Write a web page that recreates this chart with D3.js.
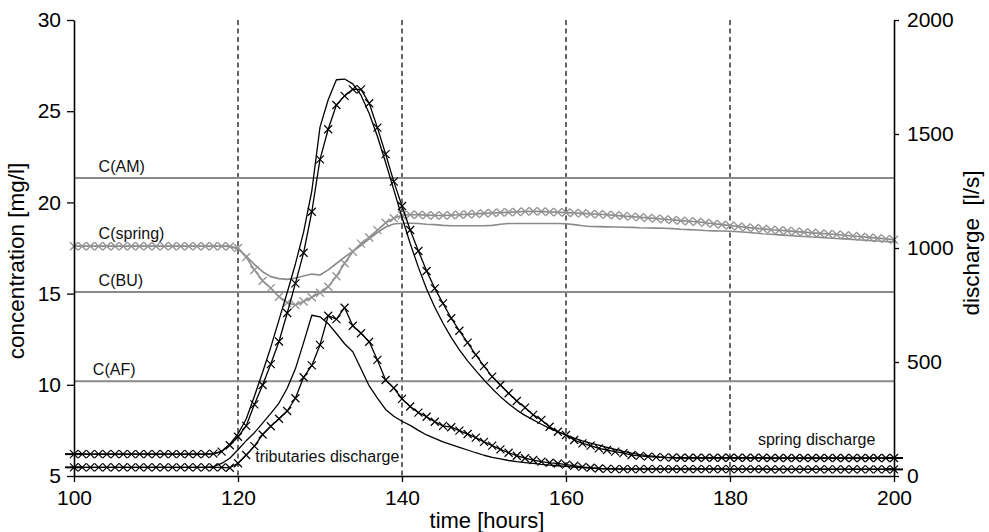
<!DOCTYPE html>
<html lang="en">
<head>
<meta charset="UTF-8">
<title>Spring concentration and discharge</title>
<script src="https://d3js.org/d3.v7.min.js"></script>
<style>
  body { margin: 0; background: #fff; }
  svg { display: block; font-family: "Liberation Sans", Arial, Helvetica, sans-serif; }
</style>
</head>
<body>
<svg width="989" height="532"></svg>
<script>
// hourly samples
const hours = [
  100,101,102,103,104,105,106,107,108,109,
  110,111,112,113,114,115,116,117,118,119,
  120,121,122,123,124,125,126,127,128,129,
  130,131,132,133,134,135,136,137,138,139,
  140,141,142,143,144,145,146,147,148,149,
  150,151,152,153,154,155,156,157,158,159,
  160,161,162,163,164,165,166,167,168,169,
  170,171,172,173,174,175,176,177,178,179,
  180,181,182,183,184,185,186,187,188,189,
  190,191,192,193,194,195,196,197,198,199,
  200
];

// discharge [l/s]
const springQMeas = [
  96,96,96,96,96,96,96,96,96,96,
  96,96,96,96,96,96,96,98,107,135,
  172,220,314,399,491,590,715,845,979,1159,
  1389,1521,1627,1667,1696,1696,1635,1528,1412,1291,
  1184,1079,987,899,823,757,692,637,585,531,
  482,436,399,363,329,300,268,246,216,194,
  180,158,143,133,121,114,107,100,92,88,
  85,83,82,81,80,80,80,80,80,80,
  80,80,80,80,80,79,79,79,79,79,
  79,79,79,79,79,79,79,79,79,79,
  79
];
const springQModel = [
  96,96,96,96,96,96,96,96,96,96,
  96,96,96,96,96,96,96,97,108,140,
  185,250,350,455,565,685,805,930,1070,1250,
  1530,1650,1738,1741,1720,1670,1590,1490,1375,1255,
  1135,1020,915,820,740,670,608,553,505,462,
  421,383,348,317,289,266,246,227,209,194,
  180,166,154,144,135,126,117,108,100,94,
  89,85,82,80,79,78,78,78,78,78,
  78,78,78,78,78,78,78,78,78,78,
  78,78,78,78,78,78,78,78,78,78,
  78
];
const tribQMeas = [
  38,38,38,38,38,38,38,38,38,38,
  38,38,38,38,38,38,38,38,38,36,
  56,92,131,182,218,251,285,341,433,485,
  575,703,688,738,659,626,589,509,421,386,
  338,305,278,260,238,220,214,199,184,168,
  150,133,117,102,89,78,70,63,58,55,
  50,45,40,36,33,31,30,30,30,30,
  30,30,30,30,30,30,30,30,30,30,
  30,30,30,30,30,29,29,29,29,29,
  29,29,29,29,29,29,29,29,29,29,
  29
];
const tribQModel = [
  38,38,38,38,38,38,38,38,38,38,
  38,38,38,38,38,38,38,41,55,78,
  115,155,190,232,275,320,385,470,585,705,
  698,668,625,580,545,470,395,342,292,262,
  240,222,200,180,165,150,138,126,114,102,
  91,82,75,68,63,59,55,51,48,45,
  42,39,37,35,33,32,31,31,31,31,
  31,31,31,31,31,31,31,31,31,31,
  30,30,30,30,30,30,30,30,30,30,
  30,30,30,30,30,30,30,30,30,30,
  30
];

// spring concentration [mg/l]
const springCMeas = [
  17.6,17.6,17.6,17.6,17.6,17.6,17.6,17.6,17.6,17.6,
  17.6,17.6,17.6,17.6,17.6,17.6,17.6,17.6,17.6,17.58,
  17.5,17.0,16.3,15.7,15.3,14.83,14.5,14.37,14.57,14.8,
  15.05,15.38,15.95,16.66,17.3,17.74,18.08,18.48,18.88,19.13,
  19.3,19.32,19.32,19.3,19.28,19.28,19.3,19.32,19.35,19.37,
  19.4,19.42,19.44,19.46,19.48,19.5,19.51,19.5,19.48,19.46,
  19.44,19.42,19.4,19.37,19.35,19.32,19.29,19.25,19.22,19.19,
  19.15,19.12,19.08,19.04,19.0,18.97,18.94,18.88,18.83,18.78,
  18.73,18.68,18.63,18.59,18.55,18.5,18.47,18.44,18.4,18.37,
  18.33,18.3,18.27,18.24,18.2,18.16,18.12,18.08,18.04,18.0,
  17.95
];
const springCModel = [
  17.6,17.6,17.6,17.6,17.6,17.6,17.6,17.6,17.6,17.6,
  17.6,17.6,17.6,17.6,17.6,17.6,17.6,17.6,17.6,17.6,
  17.45,17.05,16.6,16.2,15.93,15.82,15.78,15.85,15.96,16.07,
  16.02,16.3,16.65,17.0,17.32,17.65,18.0,18.35,18.65,18.82,
  18.86,18.86,18.84,18.8,18.78,18.74,18.72,18.72,18.72,18.72,
  18.72,18.74,18.8,18.84,18.84,18.84,18.84,18.84,18.84,18.84,
  18.83,18.78,18.72,18.68,18.67,18.66,18.65,18.64,18.63,18.61,
  18.6,18.59,18.58,18.56,18.53,18.51,18.49,18.46,18.44,18.43,
  18.42,18.39,18.36,18.32,18.28,18.25,18.22,18.19,18.16,18.13,
  18.1,18.08,18.05,18.02,18.0,17.97,17.94,17.91,17.88,17.86,
  17.83
];

// end-member concentrations
const refNames = ["C(AM)", "C(BU)", "C(AF)"];
const refLevels = [21.34, 15.09, 10.2];
const refLabelHours = [103, 103, 102.3];

const hourTicks = [100, 120, 140, 160, 180, 200];
const guideHours = [120, 140, 160, 180];
const concTicks = [5, 10, 15, 20, 25, 30];
const dischargeTicks = [0, 500, 1000, 1500, 2000];

const svg = d3.select("svg");
const width = +svg.attr("width");
const height = +svg.attr("height");
const margin = {top: 20, right: 95, bottom: 56, left: 74};

const x = d3.scaleLinear().domain([100, 200]).range([margin.left, width - margin.right]);
const yC = d3.scaleLinear().domain([5, 30]).range([height - margin.bottom, margin.top]);
const yQ = d3.scaleLinear().domain([0, 2000]).range([height - margin.bottom, margin.top]);

const GREY = "#8a8a8a";

// dashed guides
svg.append("g").selectAll("line")
  .data(guideHours)
  .join("line")
  .attr("x1", d => x(d)).attr("x2", d => x(d))
  .attr("y1", yC(30)).attr("y2", yC(5))
  .attr("stroke", "#000")
  .attr("stroke-width", 1.2)
  .attr("stroke-dasharray", "5,3.5");

// reference concentration lines
const refs = svg.append("g");
refs.selectAll("line")
  .data(refLevels)
  .join("line")
  .attr("x1", x(100)).attr("x2", x(200))
  .attr("y1", d => yC(d)).attr("y2", d => yC(d))
  .attr("stroke", GREY)
  .attr("stroke-width", 2);
refs.selectAll("text")
  .data(refNames)
  .join("text")
  .attr("x", (d, i) => x(refLabelHours[i]))
  .attr("y", (d, i) => yC(refLevels[i]) - 6)
  .attr("font-size", 16)
  .attr("fill", "#111")
  .text(d => d);

function series(values, yScale) {
  return hours.map((h, i) => [x(h), yScale(values[i])]);
}

function drawLine(pts, color, w) {
  svg.append("path")
    .attr("d", d3.line()(pts))
    .attr("fill", "none")
    .attr("stroke", color)
    .attr("stroke-width", w)
    .attr("stroke-linejoin", "round");
}

function drawCrosses(pts, color, w) {
  svg.append("g").selectAll("path")
    .data(pts)
    .join("path")
    .attr("transform", d => `translate(${d[0]},${d[1]})`)
    .attr("d", "M-4,-4L4,4M-4,4L4,-4")
    .attr("fill", "none")
    .attr("stroke", color)
    .attr("stroke-width", w);
}

function drawEndDashes(pts) {
  [pts[0], pts[pts.length - 1]].forEach(p => {
    svg.append("line")
      .attr("x1", p[0] - 9).attr("x2", p[0] + 9)
      .attr("y1", p[1]).attr("y2", p[1])
      .attr("stroke", "#000")
      .attr("stroke-width", 2);
  });
}

// concentration (grey)
const cModel = series(springCModel, yC);
const cMeas = series(springCMeas, yC);
drawLine(cModel, GREY, 1.6);
drawLine(cMeas, GREY, 1.6);
drawCrosses(cMeas, "#959595", 1.4);

svg.append("text")
  .attr("x", x(103)).attr("y", yC(springCMeas[0]) - 7)
  .attr("font-size", 16).attr("fill", "#111")
  .text("C(spring)");

// discharge (black)
const sModel = series(springQModel, yQ);
const sMeas = series(springQMeas, yQ);
const tModel = series(tribQModel, yQ);
const tMeas = series(tribQMeas, yQ);
drawLine(sModel, "#000", 1.3);
drawLine(tModel, "#000", 1.3);
drawLine(sMeas, "#000", 1.3);
drawLine(tMeas, "#000", 1.3);
drawCrosses(sMeas, "#000", 1.2);
drawCrosses(tMeas, "#000", 1.2);
drawEndDashes(sMeas);
drawEndDashes(tMeas);

svg.append("text")
  .attr("x", x(183.4)).attr("y", yQ(springQMeas[100]) - 13)
  .attr("font-size", 16).attr("fill", "#111")
  .text("spring discharge");
svg.append("text")
  .attr("x", x(122.1)).attr("y", yQ(tribQMeas[0]) - 5)
  .attr("font-size", 16).attr("fill", "#111")
  .text("tributaries discharge");

// axes
function styleAxis(g) {
  g.attr("font-size", 21).attr("font-family", null);
  g.select(".domain").attr("stroke", "#000").attr("stroke-width", 1.6);
  g.selectAll(".tick line").attr("stroke", "#000").attr("stroke-width", 1.3);
  g.selectAll(".tick text").attr("fill", "#000");
}

svg.append("g")
  .attr("transform", `translate(${x(100)},0)`)
  .call(d3.axisLeft(yC).tickValues(concTicks).tickSize(7).tickPadding(6).tickSizeOuter(0))
  .call(styleAxis);

svg.append("g")
  .attr("transform", `translate(${x(200)},0)`)
  .call(d3.axisRight(yQ).tickValues(dischargeTicks).tickFormat(d3.format("d"))
    .tickSize(5).tickPadding(8).tickSizeOuter(0))
  .call(styleAxis);

svg.append("g")
  .attr("transform", `translate(0,${yC(5)})`)
  .call(d3.axisBottom(x).tickValues(hourTicks).tickSize(6).tickPadding(8).tickSizeOuter(0))
  .call(styleAxis);

// axis titles
svg.append("text")
  .attr("transform", "translate(24,261) rotate(-90)")
  .attr("text-anchor", "middle")
  .attr("font-size", 22.5)
  .text("concentration [mg/l]");

svg.append("text")
  .attr("transform", "translate(979,243) rotate(-90)")
  .attr("text-anchor", "middle")
  .attr("font-size", 22.5)
  .style("white-space", "pre")
  .text("discharge  [l/s]");

svg.append("text")
  .attr("x", 487)
  .attr("y", 528)
  .attr("text-anchor", "middle")
  .attr("font-size", 22)
  .text("time [hours]");
</script>
</body>
</html>
